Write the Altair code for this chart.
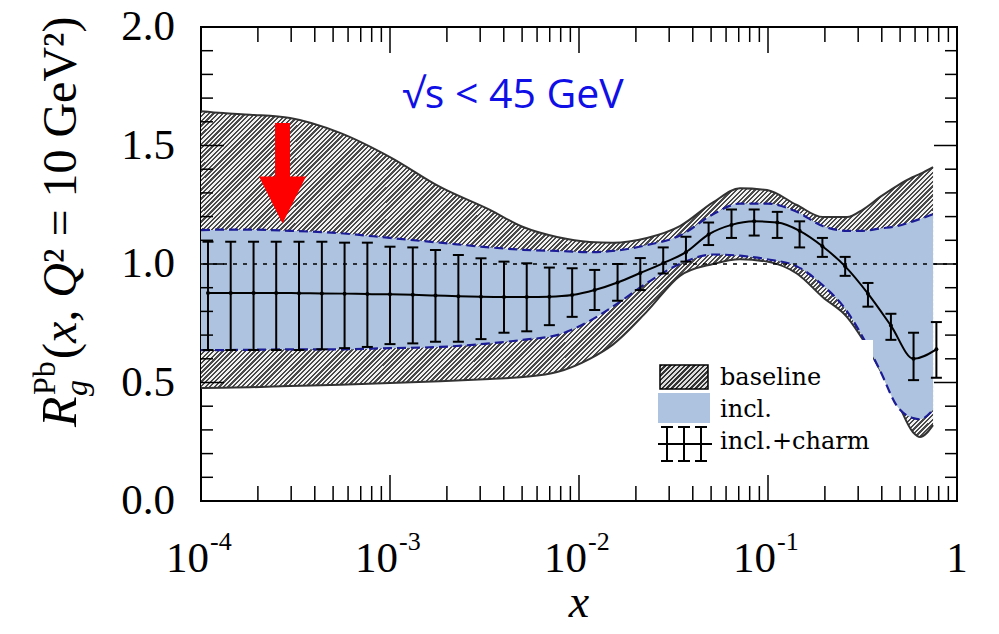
import altair as alt
import pandas as pd

# ---------------- data ----------------
band_x = [1.0e-4, 1.31e-4, 1.82e-4, 2.96e-4, 5.44e-4, 1.0e-3, 1.84e-3, 3.38e-3, 5.06e-3, 7.65e-3,
          0.0114, 0.0151, 0.0229, 0.0342, 0.0512, 0.0711, 0.0988, 0.142, 0.195, 0.262,
          0.318, 0.392, 0.482, 0.585, 0.637, 0.747]
baseline_hi = [1.645, 1.637, 1.630, 1.616, 1.553, 1.451, 1.325, 1.228, 1.156, 1.114,
               1.093, 1.090, 1.110, 1.160, 1.260, 1.320, 1.312, 1.249, 1.198, 1.198,
               1.230, 1.283, 1.330, 1.367, 1.380, 1.409]
baseline_lo = [0.477, 0.478, 0.480, 0.485, 0.490, 0.498, 0.505, 0.515, 0.523, 0.544,
               0.600, 0.660, 0.800, 0.950, 1.000, 1.020, 1.010, 0.960, 0.860, 0.776,
               0.680, 0.553, 0.420, 0.290, 0.270, 0.320]
incl_hi = [1.143, 1.145, 1.145, 1.140, 1.130, 1.110, 1.090, 1.070, 1.060, 1.055,
           1.050, 1.055, 1.080, 1.120, 1.210, 1.255, 1.255, 1.220, 1.160, 1.140,
           1.140, 1.150, 1.160, 1.180, 1.190, 1.210]
incl_lo = [0.637, 0.637, 0.638, 0.640, 0.640, 0.645, 0.650, 0.665, 0.680, 0.700,
           0.760, 0.820, 0.920, 1.000, 1.040, 1.035, 1.020, 0.990, 0.910, 0.800,
           0.690, 0.550, 0.400, 0.350, 0.345, 0.385]

charm_x = [1.089e-4, 1.436e-4, 1.897e-4, 2.50e-4, 3.30e-4, 4.36e-4, 5.75e-4, 7.59e-4, 1.00e-3,
           1.32e-3, 1.74e-3, 2.30e-3, 3.03e-3, 4.01e-3, 5.29e-3, 6.97e-3, 9.20e-3, 0.0121,
           0.0160, 0.0211, 0.0279, 0.0368, 0.0485, 0.0641, 0.0845, 0.112, 0.147, 0.194,
           0.256, 0.338, 0.447, 0.589, 0.778]
charm_mid = [0.878, 0.878, 0.878, 0.878, 0.877, 0.876, 0.875, 0.873, 0.872, 0.870, 0.867,
             0.864, 0.862, 0.861, 0.861, 0.862, 0.869, 0.890, 0.922, 0.962, 1.004, 1.050,
             1.125, 1.165, 1.180, 1.175, 1.140, 1.075, 0.990, 0.875, 0.740, 0.600, 0.640]
charm_hi = [1.094, 1.094, 1.094, 1.094, 1.094, 1.094, 1.090, 1.090, 1.073, 1.070, 1.059,
            1.038, 1.024, 1.010, 1.003, 0.985, 0.982, 0.975, 1.000, 1.025, 1.070, 1.115,
            1.175, 1.230, 1.230, 1.220, 1.180, 1.110, 1.030, 0.920, 0.790, 0.710, 0.755]
charm_lo = [0.637, 0.637, 0.637, 0.637, 0.637, 0.640, 0.645, 0.650, 0.662, 0.665, 0.672,
            0.672, 0.683, 0.710, 0.716, 0.742, 0.777, 0.806, 0.845, 0.890, 0.960, 1.010,
            1.080, 1.110, 1.120, 1.110, 1.070, 1.030, 0.950, 0.820, 0.680, 0.510, 0.520]

ref_level = 1.0
arrow_x = 2.7e-4
arrow_tail, arrow_neck, arrow_head = 1.595, 1.36, 1.27

x_decades = [1e-4, 1e-3, 1e-2, 1e-1]
x_exponents = ["-4", "-3", "-2", "-1"]
y_major = [0.0, 0.5, 1.0, 1.5, 2.0]
y_labels = ["0.0", "0.5", "1.0", "1.5", "2.0"]
x_minor = [m * d for d in x_decades for m in range(2, 10)]
x_major = x_decades + [1.0]
y_minor = [round(0.1 * k, 1) for k in range(1, 20) if k % 5 != 0]

legend_names = ["baseline", "incl.", "incl.+charm"]
energy_note = "√s < 45 GeV"

# ---------------- layout ----------------
W, H = 756, 474
x_scale = alt.Scale(type="log", domain=[1e-4, 1.0], nice=False)
y_scale = alt.Scale(domain=[0.0, 2.0], nice=False, zero=False)
SERIF = "Liberation Serif"
LEG_FONT = "DejaVu Serif"

X = alt.X("x:Q", scale=x_scale, axis=None)


def Y(f):
    return alt.Y(f"{f}:Q", scale=y_scale, axis=None)


def hatch(n, x2, y2, dark="#4a4a4a", light="#f2f2f2"):
    stops = []
    for k in range(n):
        a, b, c = k / n, (k + 0.5) / n, (k + 1) / n
        stops += [alt.GradientStop(color=dark, offset=a), alt.GradientStop(color=dark, offset=b),
                  alt.GradientStop(color=light, offset=b), alt.GradientStop(color=light, offset=c)]
    return alt.LinearGradient(gradient="linear", stops=stops, x1=0, y1=0, x2=x2, y2=y2)


bands = pd.DataFrame({"x": band_x, "bhi": baseline_hi, "blo": baseline_lo,
                      "ihi": incl_hi, "ilo": incl_lo})
charm = pd.DataFrame({"x": charm_x, "mid": charm_mid, "hi": charm_hi, "lo": charm_lo})
one = pd.DataFrame({"a": [0]})

gray_area = alt.Chart(bands).mark_area(fill=hatch(230, 1.2, 0.535), interpolate="monotone").encode(
    x=X, y=Y("bhi"), y2=alt.Y2("blo:Q"))
gray_hi = alt.Chart(bands).mark_line(color="#333333", strokeWidth=2, interpolate="monotone").encode(x=X, y=Y("bhi"))
gray_lo = alt.Chart(bands).mark_line(color="#333333", strokeWidth=2, interpolate="monotone").encode(x=X, y=Y("blo"))

blue_area = alt.Chart(bands).mark_area(color="#adc3df", opacity=1, interpolate="monotone").encode(
    x=X, y=Y("ihi"), y2=alt.Y2("ilo:Q"))
blue_hi = alt.Chart(bands).mark_line(color="#1c1c96", strokeWidth=2.2, strokeDash=[9, 5],
                                     interpolate="monotone").encode(x=X, y=Y("ihi"))
blue_lo = alt.Chart(bands).mark_line(color="#1c1c96", strokeWidth=2.2, strokeDash=[9, 5],
                                     interpolate="monotone").encode(x=X, y=Y("ilo"))

ref_line = alt.Chart(pd.DataFrame({"y": [ref_level]})).mark_rule(
    color="black", strokeWidth=1.5, strokeDash=[4, 6]).encode(y=Y("y"))

mid_line = alt.Chart(charm).mark_line(color="black", strokeWidth=2, interpolate="monotone").encode(x=X, y=Y("mid"))
bars = alt.Chart(charm).mark_rule(color="black", strokeWidth=2).encode(x=X, y=Y("lo"), y2=alt.Y2("hi:Q"))
cap_hi = alt.Chart(charm).mark_point(shape="M-1,0L1,0", size=121, stroke="black", strokeWidth=2,
                                     filled=False, opacity=1).encode(x=X, y=Y("hi"))
cap_lo = alt.Chart(charm).mark_point(shape="M-1,0L1,0", size=121, stroke="black", strokeWidth=2,
                                     filled=False, opacity=1).encode(x=X, y=Y("lo"))
dots = alt.Chart(charm).mark_circle(size=16, color="black", opacity=1).encode(x=X, y=Y("mid"))

# ---------------- legend ----------------
PX = lambda f: alt.X(f"{f}:Q", scale=None, axis=None)
PY = lambda f: alt.Y(f"{f}:Q", scale=None, axis=None)

leg_box = alt.Chart(one).mark_rect(fill="white").encode(
    x=alt.value(444), x2=alt.value(672), y=alt.value(313), y2=alt.value(440))
leg_hatch = alt.Chart(one).mark_rect(fill=hatch(15, 1.2, 0.6, dark="#333333", light="#dddddd"),
                                     stroke="black", strokeWidth=1.5).encode(
    x=alt.value(459), x2=alt.value(507), y=alt.value(338), y2=alt.value(362))
leg_blue = alt.Chart(one).mark_rect(fill="#adc3df").encode(
    x=alt.value(457), x2=alt.value(509), y=alt.value(366), y2=alt.value(396))
icon = pd.DataFrame({
    "x": [457, 466, 483, 500, 460, 477, 494, 460, 477, 494],
    "x2": [511, 466, 483, 500, 472, 489, 506, 472, 489, 506],
    "y": [417, 400, 400, 400, 400, 400, 400, 434, 434, 434],
    "y2": [417, 434, 434, 434, 400, 400, 400, 434, 434, 434],
})
leg_icon = alt.Chart(icon).mark_rule(color="black", strokeWidth=2).encode(
    x=PX("x"), x2="x2:Q", y=PY("y"), y2="y2:Q")
leg_df = pd.DataFrame({"name": legend_names, "py": [358, 390, 422]})
leg_text = alt.Chart(leg_df).mark_text(font=LEG_FONT, fontSize=24, align="left", baseline="alphabetic",
                                       color="black").encode(
    x=alt.value(519), y=PY("py"), text="name:N")

# ---------------- annotations ----------------
arrow_df = pd.DataFrame({"x": [arrow_x], "t": [arrow_tail], "n": [arrow_neck], "h": [arrow_head]})
arrow_shaft = alt.Chart(arrow_df).mark_rule(color="#ff0000", strokeWidth=15).encode(
    x=X, y=Y("t"), y2=alt.Y2("n:Q"))
arrow_tip = alt.Chart(arrow_df).mark_point(shape="M-1,-1L1,-1L0,1Z", size=2209, filled=True,
                                           color="#ff0000", opacity=1).encode(x=X, y=Y("h"))
note = alt.Chart(one).mark_text(text=energy_note, font="Open Sans", fontSize=41, color="#1010e6",
                                align="center", baseline="alphabetic").encode(
    x=alt.value(312), y=alt.value(81))

# ---------------- frame ticks ----------------
xmin_df = pd.DataFrame({"x": x_minor})
xmaj_df = pd.DataFrame({"x": x_major})
ymin_df = pd.DataFrame({"y": y_minor})
ymaj_df = pd.DataFrame({"y": y_major})
tick_layers = []
for df, L in [(xmin_df, 15), (xmaj_df, 26)]:
    tick_layers.append(alt.Chart(df).mark_rule(color="black", strokeWidth=1.5).encode(
        x=X, y=alt.value(H), y2=alt.value(H - L)))
    tick_layers.append(alt.Chart(df).mark_rule(color="black", strokeWidth=1.5).encode(
        x=X, y=alt.value(0), y2=alt.value(L)))
for df, L in [(ymin_df, 12), (ymaj_df, 23)]:
    tick_layers.append(alt.Chart(df).mark_rule(color="black", strokeWidth=1.5).encode(
        y=Y("y"), x=alt.value(0), x2=alt.value(L)))
    tick_layers.append(alt.Chart(df).mark_rule(color="black", strokeWidth=1.5).encode(
        y=Y("y"), x=alt.value(W), x2=alt.value(W - L)))

# ---------------- tick labels & titles ----------------
ylab = alt.Chart(pd.DataFrame({"y": y_major, "lab": y_labels})).mark_text(
    font=SERIF, fontSize=43, align="right", baseline="middle", color="black").encode(
    x=alt.value(-26), y=Y("y"), text="lab:N")
xdec = pd.DataFrame({"x": x_decades, "e": x_exponents})
xlab_m = alt.Chart(xdec).mark_text(text="10", font=SERIF, fontSize=43, align="right", dx=8,
                                   baseline="alphabetic", color="black").encode(x=X, y=alt.value(545))
xlab_e = alt.Chart(xdec).mark_text(font=SERIF, fontSize=26, align="left", dx=9,
                                   baseline="alphabetic", color="black").encode(
    x=X, y=alt.value(523), text="e:N")
xlab_1 = alt.Chart(pd.DataFrame({"x": [1.0]})).mark_text(text="1", font=SERIF, fontSize=43, align="center",
                                                         baseline="alphabetic", color="black").encode(
    x=X, y=alt.value(545))
xtitle = alt.Chart(one).mark_text(text="x", font=SERIF, fontSize=46, fontStyle="italic",
                                  align="center", baseline="alphabetic", color="black").encode(
    x=alt.value(W / 2), y=alt.value(590))

ytitle_parts = [
    ("R", 50, "italic", -125, 400),
    ("Pb", 32, "normal", -146, 368),
    ("g", 32, "italic", -114, 369),
    ("(", 48, "normal", -125, 332),
    ("x, Q", 48, "italic", -125, 316),
    ("² = 10 GeV²)", 48, "normal", -125, 236),
]
ytitle = [
    alt.Chart(one).mark_text(text=t, font=SERIF, fontSize=fs, fontStyle=st, angle=270, align="left",
                             baseline="alphabetic", color="black").encode(x=alt.value(xx), y=alt.value(yy))
    for t, fs, st, xx, yy in ytitle_parts
]

chart = alt.layer(
    gray_area, gray_hi, gray_lo, blue_area, blue_hi, blue_lo, ref_line,
    mid_line, bars, cap_hi, cap_lo, dots,
    leg_box, leg_hatch, leg_blue, leg_icon, leg_text,
    arrow_shaft, arrow_tip, note,
    *tick_layers, ylab, xlab_m, xlab_e, xlab_1, xtitle, *ytitle,
).properties(
    width=W, height=H,
    padding={"left": 193, "top": 19, "right": 34, "bottom": 125},
    autosize=alt.AutoSizeParams(type="none"),
).configure_view(stroke="black", strokeWidth=2)

chart.save("out.html", embed_options={"renderer": "svg", "actions": False})
